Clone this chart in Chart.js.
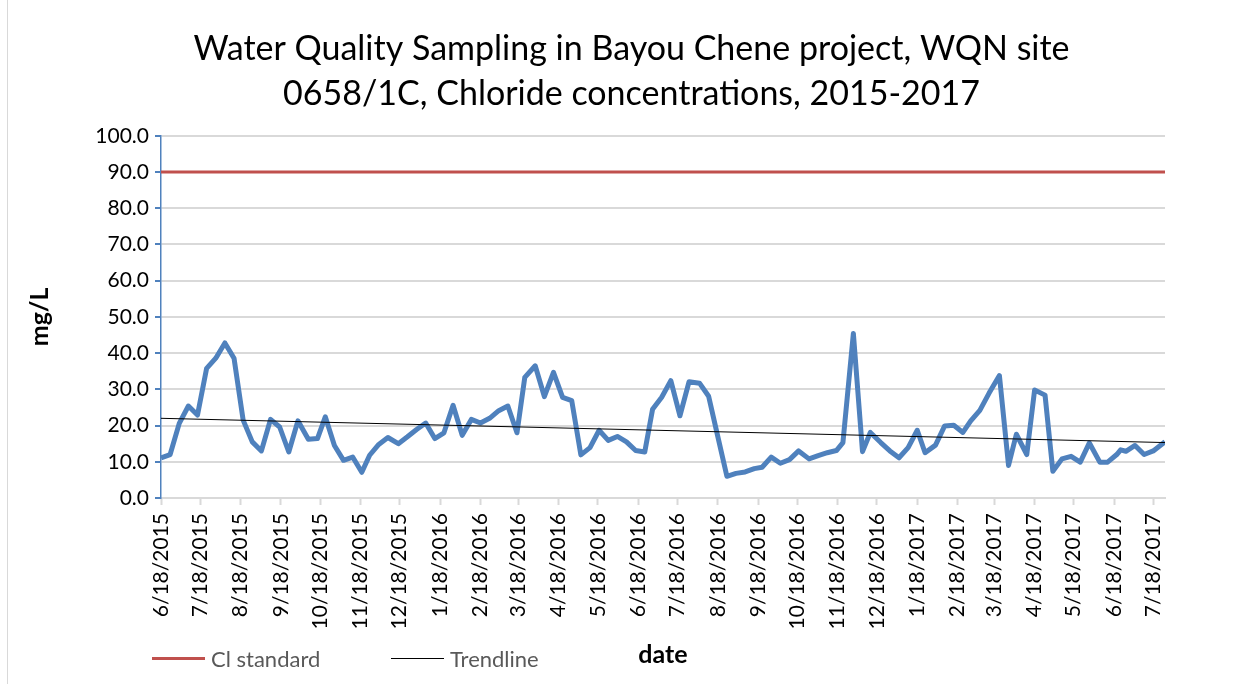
<!DOCTYPE html>
<html>
<head>
<meta charset="utf-8">
<title>Chloride concentrations, Bayou Chene</title>
<script src="https://cdn.jsdelivr.net/npm/chart.js@4.4.1/dist/chart.umd.min.js"></script>
<style>
  body { margin: 0; background: #fff; }
  #wrap { position: relative; width: 1253px; height: 684px; overflow: hidden; }
  #frame { position: absolute; left: 7px; top: 0; width: 1300px; height: 700px; border-left: 1px solid #d9d9d9; }
  .legend-item { position: absolute; top: 645px; height: 26px; font: 22px Lato, sans-serif; color: #595959; display: flex; align-items: center; }
  .legend-item .swatch { display: inline-block; width: 53px; margin-right: 6px; }
</style>
</head>
<body>
<div id="wrap">
  <div id="frame"></div>
  <canvas id="chart" width="1253" height="684"></canvas>
  <div class="legend-item" style="left:152px"><span class="swatch" style="height:3px;background:#C0504D"></span>Cl standard</div>
  <div class="legend-item" style="left:391px"><span class="swatch" style="height:1px;background:#000"></span>Trendline</div>
</div>
<script>
const tickLabels = ["6/18/2015", "7/18/2015", "8/18/2015", "9/18/2015", "10/18/2015", "11/18/2015",
  "12/18/2015", "1/18/2016", "2/18/2016", "3/18/2016", "4/18/2016", "5/18/2016", "6/18/2016",
  "7/18/2016", "8/18/2016", "9/18/2016", "10/18/2016", "11/18/2016", "12/18/2016", "1/18/2017",
  "2/18/2017", "3/18/2017", "4/18/2017", "5/18/2017", "6/18/2017", "7/18/2017"];

// sampling days, counted from 6/18/2015
const sampleDays = [0, 7, 14, 21, 28, 35, 42, 49, 56, 63,
  70, 77, 84, 91, 98, 105, 113, 120, 126, 133,
  140, 147, 154, 160, 167, 174, 182, 189, 196, 203,
  210, 217, 224, 231, 238, 245, 252, 259, 266, 273,
  279, 287, 294, 301, 308, 315, 322, 329, 336, 343,
  350, 357, 364, 371, 377, 384, 391, 398, 405, 413,
  420, 427, 434, 441, 448, 455, 461, 468, 475, 482,
  489, 497, 504, 511, 518, 523, 531, 538, 544, 552,
  559, 566, 573, 580, 586, 594, 601, 608, 615, 621,
  628, 635, 643, 650, 656, 664, 670, 678, 684, 691,
  698, 705, 712, 720, 726, 733, 736, 740, 747, 754,
  761, 770];

// chloride, mg/L
const chlorideValues = [11.1, 12.0, 20.6, 25.4, 22.9, 35.8, 38.6, 42.8, 38.6, 21.5,
  15.5, 13.0, 21.7, 19.6, 12.7, 21.3, 16.2, 16.4, 22.4, 14.5,
  10.4, 11.3, 7.1, 11.8, 14.8, 16.7, 15.0, 16.9, 18.9, 20.7,
  16.4, 18.0, 25.6, 17.3, 21.7, 20.7, 22.0, 24.1, 25.4, 18.0,
  33.3, 36.5, 28.0, 34.7, 27.8, 26.9, 11.9, 13.9, 18.7, 15.9,
  17.0, 15.5, 13.1, 12.7, 24.5, 27.8, 32.4, 22.7, 32.1, 31.7,
  28.1, 17.0, 6.0, 6.8, 7.2, 8.1, 8.5, 11.3, 9.6, 10.6,
  13.0, 10.8, 11.7, 12.5, 13.1, 15.3, 45.4, 12.8, 18.1, 15.3,
  13.0, 11.1, 13.9, 18.7, 12.5, 14.6, 19.9, 20.1, 18.1, 21.3,
  24.2, 28.9, 33.8, 9.0, 17.6, 12.0, 29.8, 28.4, 7.4, 10.8,
  11.5, 9.9, 15.2, 9.9, 9.9, 12.0, 13.3, 12.9, 14.5, 12.0,
  13.0, 15.5];

const standardValues = [90, 90];
const trendValues = [22.0, 15.3];

function daysFromStart(label) {
  const [m, d, y] = label.split("/").map(Number);
  return Math.round((Date.UTC(y, m - 1, d) - Date.UTC(2015, 5, 18)) / 86400000);
}

const firstDay = sampleDays[0];
const lastDay = sampleDays[sampleDays.length - 1];
const tickDays = tickLabels.map(daysFromStart);
const font = "Lato";

const ctx = document.getElementById("chart").getContext("2d");
new Chart(ctx, {
  type: "line",
  data: {
    datasets: [
      {
        label: "Trendline",
        data: [{ x: firstDay, y: trendValues[0] }, { x: lastDay, y: trendValues[1] }],
        borderColor: "#000000",
        borderWidth: 1,
        order: 0
      },
      {
        label: "Chloride",
        data: sampleDays.map((d, i) => ({ x: d, y: chlorideValues[i] })),
        borderColor: "#4F81BD",
        borderWidth: 5,
        borderJoinStyle: "round",
        order: 1
      },
      {
        label: "Cl standard",
        data: [{ x: firstDay, y: standardValues[0] }, { x: lastDay, y: standardValues[1] }],
        borderColor: "#C0504D",
        borderWidth: 3,
        order: 2
      }
    ]
  },
  options: {
    responsive: false,
    animation: false,
    devicePixelRatio: 1,
    elements: { point: { radius: 0 }, line: { tension: 0 } },
    layout: { padding: { top: 0, left: 10, right: 0, bottom: 0 } },
    plugins: {
      legend: { display: false },
      tooltip: { enabled: false },
      title: {
        display: true,
        text: ["Water Quality Sampling in Bayou Chene project, WQN site",
               "0658/1C, Chloride concentrations, 2015-2017"],
        color: "#000",
        font: { family: font, size: 34, weight: "normal", lineHeight: 1.32 },
        padding: { top: 27, bottom: 19 }
      }
    },
    scales: {
      x: {
        type: "linear",
        min: firstDay,
        max: lastDay,
        afterBuildTicks: scale => {
          scale.ticks = tickDays.map(v => ({ value: v }));
        },
        afterFit: scale => { scale.height = 186; },
        ticks: {
          autoSkip: false,
          minRotation: 90,
          maxRotation: 90,
          padding: 8,
          color: "#000",
          font: { family: font, size: 21 },
          callback: value => {
            const i = tickDays.indexOf(value);
            return i >= 0 ? tickLabels[i] : "";
          }
        },
        grid: { drawOnChartArea: false, tickColor: "#d9d9d9", tickLength: 7, tickWidth: 2 },
        border: { color: "#d9d9d9", width: 2 },
        title: {
          display: true,
          text: "date",
          color: "#000",
          font: { family: font, size: 25, weight: "bold", lineHeight: 1.2 },
          padding: { top: 0, bottom: 14 }
        }
      },
      y: {
        min: 0,
        max: 100,
        afterFit: scale => { scale.width = 151; },
        ticks: {
          stepSize: 10,
          padding: 6,
          color: "#000",
          font: { family: font, size: 21 },
          callback: value => value.toFixed(1)
        },
        grid: { color: "#d9d9d9", lineWidth: 2, tickColor: "#4F81BD", tickLength: 6 },
        border: { color: "#4F81BD", width: 1.5 },
        title: {
          display: true,
          text: "mg/L",
          color: "#000",
          font: { family: font, size: 25, weight: "bold", lineHeight: 1.2 },
          padding: { top: 15 }
        }
      },
      // empty right-hand axis, only keeps the margin right of the plot
      yRight: {
        position: "right",
        afterFit: scale => { scale.width = 88; },
        ticks: { display: false },
        grid: { display: false },
        border: { display: false }
      }
    }
  }
});
</script>
</body>
</html>
